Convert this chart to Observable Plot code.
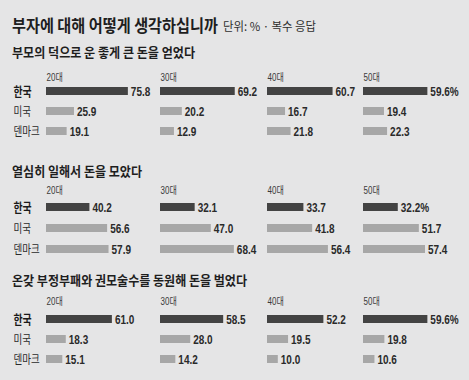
<!DOCTYPE html>
<html><head><meta charset="utf-8">
<script src="https://cdn.jsdelivr.net/npm/d3@7"></script>
<script src="https://cdn.jsdelivr.net/npm/@observablehq/plot@0.6"></script>
<style>
html,body{margin:0;padding:0;background:#e5e5e6;}
#chart{position:relative;width:469px;height:380px;background:#e5e5e6;overflow:hidden;font-family:"Noto Sans CJK KR",sans-serif;color:#1e1e1e;}
.t{position:absolute;white-space:nowrap;transform-origin:0 50%;line-height:20px;height:20px;display:block;}
.main{font-size:16.5px;font-weight:700;}
.unit{font-size:12px;font-weight:400;color:#2e2e2e;}
.sec{font-size:13px;font-weight:700;}
.cell{position:absolute;}
.cell svg{overflow:visible;}
</style>
</head><body><div id="chart"></div>
<script>
const mainTitle = "부자에 대해 어떻게 생각하십니까";
const unitNote = "단위: % · 복수 응답";
const sectionTitles = ["부모의 덕으로 운 좋게 큰 돈을 얻었다", "열심히 일해서 돈을 모았다", "온갖 부정부패와 권모술수를 동원해 돈을 벌었다"];
const ages = ["20대", "30대", "40대", "50대"];
const countries = ["한국", "미국", "덴마크"];
// values[country][age]
const luckValues = [[75.8, 69.2, 60.7, 59.6], [25.9, 20.2, 16.7, 19.4], [19.1, 12.9, 21.8, 22.3]];
const workValues = [[40.2, 32.1, 33.7, 32.2], [56.6, 47.0, 41.8, 51.7], [57.9, 68.4, 56.4, 57.4]];
const corruptValues = [[61.0, 58.5, 52.2, 59.6], [18.3, 28.0, 19.5, 19.8], [15.1, 14.2, 10.0, 10.6]];
const sectionValues = [luckValues, workValues, corruptValues];

// layout (pixels) — text blocks: left, centre y, target width
const titleBoxes = [
  {cls: "main", text: mainTitle, x: 12, y: 25, w: 206},
  {cls: "unit", text: unitNote, x: 223, y: 26, w: 93}
];
const layout = [
  {titleY: 52, titleW: 183, ageY: 76.5, row1: 90.5, step: 20.3},
  {titleY: 170.7, titleW: 130, ageY: 189.5, row1: 206.3, step: 21},
  {titleY: 280, titleW: 235, ageY: 301, row1: 317.8, step: 20.9}
];
const colLeft = [0, 160, 267, 363];
const colWidth = [160, 107, 96, 106];
const colMargin = [46, 0, 0, 0];
const pxPer100 = 108;

const numFont = '"Liberation Sans",Arial,"Noto Sans CJK KR",sans-serif';
const krFont = '"Noto Sans CJK KR",sans-serif';
const dark = "#434343", light = "#a7a7a7";

const root = document.getElementById("chart");
function addText(cls, txt, x, y, w) {
  const d = document.createElement("div");
  d.className = "t " + cls; d.textContent = txt;
  d.style.left = x + "px"; d.style.top = (y - 10) + "px";
  root.appendChild(d);
  const r = document.createRange(); r.selectNodeContents(d);
  const nat = r.getBoundingClientRect().width;
  if (nat > 0) d.style.transform = `scaleX(${w / nat})`;
}
titleBoxes.forEach(b => addText(b.cls, b.text, b.x, b.y, b.w));

sectionValues.forEach((vals, s) => {
  const L = layout[s];
  addText("sec", sectionTitles[s], 12, L.titleY, L.titleW);
  ages.forEach((age, a) => {
    const data = countries.map((c, i) => ({country: c, value: vals[i][a],
      label: vals[i][a].toFixed(1) + (i === 0 && a === ages.length - 1 ? "%" : "")}));
    const top = L.ageY - 8;
    const mt = (L.row1 - L.step / 2) - top;
    const h = mt + 3 * L.step + 2;
    const ml = colMargin[a];
    const marks = [
      Plot.barX(data, {x: "value", y: "country", fill: d => d.country === "한국" ? dark : light}),
      Plot.text(data, {x: "value", y: "country", text: "label", dx: 2.5, textAnchor: "start",
        fontFamily: numFont, fontSize: 12.5, fontWeight: 700, fill: "#2a2a2a"}),
      Plot.text([age], {frameAnchor: "top-left", dy: L.ageY - (top + mt), textAnchor: "start",
        lineAnchor: "middle", fontFamily: numFont, fontSize: 10, fill: "#3a3a3a"})
    ];
    if (a === 0) {
      marks.push(Plot.text(countries.slice(0, 1), {y: d => d, frameAnchor: "left", dx: 13 - ml,
        textAnchor: "start", fontFamily: krFont, fontSize: 13, fontWeight: 700, fill: "#1a1a1a"}));
      marks.push(Plot.text(countries.slice(1), {y: d => d, frameAnchor: "left", dx: 13 - ml,
        textAnchor: "start", fontFamily: krFont, fontSize: 12.5, fontWeight: 400, fill: "#2a2a2a"}));
    }
    const svg = Plot.plot({
      width: colWidth[a], height: h,
      marginTop: mt, marginBottom: 2, marginLeft: ml, marginRight: 0,
      style: {background: "transparent", overflow: "visible"},
      x: {domain: [0, 100], range: [ml, ml + pxPer100], axis: null},
      y: {domain: countries, axis: null, paddingInner: 0.6, paddingOuter: 0.3},
      color: {type: "identity"},
      marks
    });
    // condensed look: compress glyphs horizontally around each text's start anchor
    d3.select(svg).selectAll("text").each(function() {
      const f = countries.includes(this.textContent) ? 0.76 : 0.8;
      const t = this.getAttribute("transform");
      if (t) this.setAttribute("transform", t + ` scale(${f},1)`);
    });
    const cell = document.createElement("div");
    cell.className = "cell";
    cell.style.left = colLeft[a] + "px";
    cell.style.top = top + "px";
    cell.appendChild(svg);
    root.appendChild(cell);
  });
});
</script>
</body></html>
